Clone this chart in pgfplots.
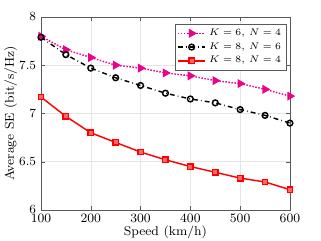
\documentclass[border=0pt]{standalone}
\usepackage{pgfplots}
\pgfplotsset{compat=1.18}
\begin{document}
\begin{tikzpicture}
\path[use as bounding box] (-25.6pt,-19.4pt) rectangle ++(200.6pt,150.6pt);
\begin{axis}[
  at={(0,0)}, anchor=south west,
  scale only axis,
  width=155.6pt, height=120.6pt,
  xmin=100, xmax=600, ymin=6, ymax=8,
  xtick={100,200,...,600},
  ytick={6,6.5,7,7.5,8},
  yticklabels={6,6.5,7,7.5,8},
  grid=major,
  grid style={gray!20, line width=0.3pt},
  axis line style={gray!70!black, line width=0.4pt},
  tick style={gray!70!black},
  tick align=inside,
  major tick length=2.5pt,
  xtick pos=both, ytick pos=both,
  tick label style={font=\fontsize{7.8}{9}\selectfont},
  xticklabel style={yshift=1pt},
  yticklabel style={xshift=0.5pt},
  xlabel={Speed (km/h)},
  ylabel={Average SE (bit/s/Hz)},
  label style={font=\fontsize{8}{9.6}\selectfont},
  xlabel style={yshift=4.5pt},
  ylabel style={yshift=-5.5pt},
  legend style={at={(rel axis cs:0.985,0.965)}, anchor=north east, draw=gray!70!black, font=\fontsize{6.3}{7.3}\selectfont, row sep=-1pt, inner sep=1pt},
  legend cell align=left,
]
\addplot[magenta, densely dotted, line width=0.9pt, mark=triangle*, mark options={solid, rotate=-90, fill=magenta}, mark size=2.4pt]
 coordinates {(100,7.80)(150,7.66)(200,7.58)(250,7.50)(300,7.47)(350,7.42)(400,7.39)(450,7.34)(500,7.31)(550,7.25)(600,7.18)};
\addlegendentry{$K=6$, $N=4$}
\addplot[black, dash dot, line width=0.9pt, mark=o, mark options={solid}, mark size=1.8pt]
 coordinates {(100,7.79)(150,7.61)(200,7.47)(250,7.37)(300,7.29)(350,7.21)(400,7.15)(450,7.11)(500,7.04)(550,6.98)(600,6.90)};
\addlegendentry{$K=8$, $N=6$}
\addplot[red, solid, line width=0.9pt, mark=square*, mark options={solid, fill=red!60}, mark size=1.7pt]
 coordinates {(100,7.17)(150,6.97)(200,6.80)(250,6.70)(300,6.60)(350,6.52)(400,6.45)(450,6.39)(500,6.33)(550,6.29)(600,6.21)};
\addlegendentry{$K=8$, $N=4$}
\end{axis}
\end{tikzpicture}
\end{document}
